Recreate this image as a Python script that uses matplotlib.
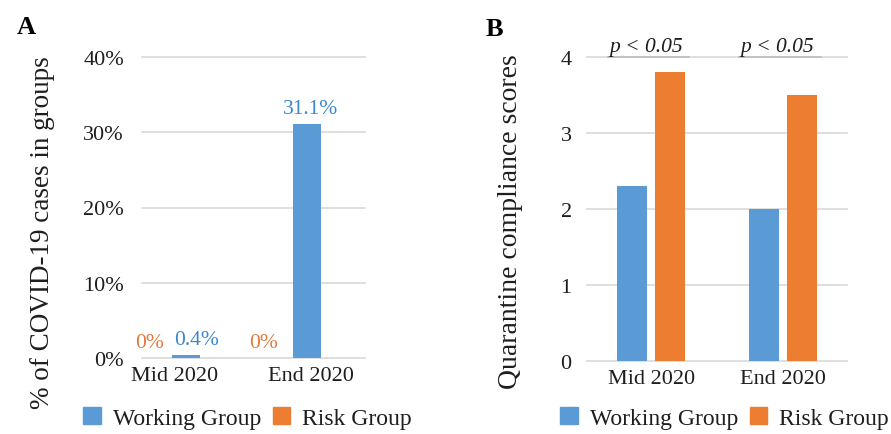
import numpy as np
import matplotlib
matplotlib.use("Agg")
import matplotlib.pyplot as plt
from matplotlib.patches import Patch

plt.rcParams['font.family'] = ['Liberation Serif', 'DejaVu Serif']

# data
periods = ['Mid 2020', 'End 2020']
series = ['Working Group', 'Risk Group']
cases_working = [0.4, 31.1]     # % of COVID-19 cases
cases_risk = [0.0, 0.0]
score_working = [2.3, 2.0]      # quarantine compliance scores
score_risk = [3.8, 3.5]
p_labels = ['p < 0.05', 'p < 0.05']
pct_ticks = [0, 10, 20, 30, 40]
score_ticks = [0, 1, 2, 3, 4]

blue = '#5b9bd5'
orange = '#ed7d31'
blue_txt = '#3a86d0'
orange_txt = '#e07a3c'
grid_c = '#d9d9d9'
txt_c = '#1e1e1e'

fig = plt.figure(figsize=(8.91, 4.35), dpi=100)

# ---------- panel A ----------
axA = fig.add_axes([142/891, 1-359/435, 223/891, 301/435])
x = np.arange(len(periods))
w = 0.228
axA.bar(x - w/2, cases_risk, w, color=orange, zorder=2)
axA.bar(x + w/2, cases_working, w, color=blue, zorder=2)
for t in pct_ticks:
    axA.axhline(t, color=grid_c, lw=1.2, zorder=1, clip_on=False)
axA.set_ylim(0, 40)
axA.set_xlim(-0.25, 1.59)
axA.set_yticks(pct_ticks)
axA.set_yticklabels([f'{t}%' for t in pct_ticks])
axA.set_xticks(x + np.array([0.02, 0.14]))
axA.set_xticklabels(periods)

# value labels (small horizontal nudges like the original)
risk_dx = [-0.07, -0.13]
work_dx = [0.09, 0.03]
for i in range(len(periods)):
    axA.annotate(f'{cases_risk[i]:g}%', (x[i] - w/2 + risk_dx[i], cases_risk[i]),
                 xytext=(0, 4), textcoords='offset points', ha='center', va='bottom',
                 color=orange_txt, fontsize=15.5)
    axA.annotate(f'{cases_working[i]:g}%', (x[i] + w/2 + work_dx[i], cases_working[i]),
                 xytext=(0, 4), textcoords='offset points', ha='center', va='bottom',
                 color=blue_txt, fontsize=15.5)
axA.set_ylabel('% of COVID-19 cases in groups', fontsize=19.5, color=txt_c)
axA.yaxis.set_label_coords(-(142-55)/223, 0.42)

# ---------- panel B ----------
axB = fig.add_axes([587/891, 1-362/435, 260/891, 304/435])
w2 = 0.229
off = 0.145
axB.bar(x - off, score_working, w2, color=blue, zorder=2)
axB.bar(x + off, score_risk, w2, color=orange, zorder=2)
for t in score_ticks:
    axB.axhline(t, color=grid_c, lw=1.2, zorder=1, clip_on=False)
axB.set_ylim(0, 4)
axB.set_xlim(-0.49, 1.49)
axB.set_yticks(score_ticks)
axB.set_xticks(x)
axB.set_xticklabels(periods)
for i, lab in enumerate(p_labels):
    axB.plot([x[i] - 0.33, x[i] + 0.29], [4, 4], color='#bdbdbd', lw=1.2,
             clip_on=False, zorder=3)
    axB.annotate(lab, (x[i] - 0.04, 4), xytext=(0, 4), textcoords='offset points',
                 ha='center', va='baseline', style='italic', fontsize=15.5, color=txt_c)
axB.set_ylabel('Quarantine compliance scores', fontsize=20, color=txt_c)
axB.yaxis.set_label_coords(-(587-523)/260, 0.462)

for ax, ypad in ((axA, 13), (axB, 11)):
    for s in ax.spines.values():
        s.set_visible(False)
    ax.tick_params(axis='y', length=0, pad=ypad, labelsize=16, labelcolor=txt_c)
    ax.tick_params(axis='x', length=0, pad=6, labelsize=16, labelcolor=txt_c)

# panel letters
fig.text(26/891, 1-27/435, 'A', fontsize=19, fontweight='bold', ha='center', va='center')
fig.text(494/891, 1-29/435, 'B', fontsize=19, fontweight='bold', ha='center', va='center')

# legends
handles = [Patch(color=blue), Patch(color=orange)]
for left in (83, 560):
    fig.legend(handles, series, loc='center left', bbox_to_anchor=(left/891, 1-419/435),
               ncol=2, frameon=False, fontsize=17, handlelength=0.75, handleheight=0.75,
               handletextpad=0.5, columnspacing=0.5, borderpad=0, borderaxespad=0,
               labelcolor=txt_c)

fig.savefig('out.png', dpi=100)
